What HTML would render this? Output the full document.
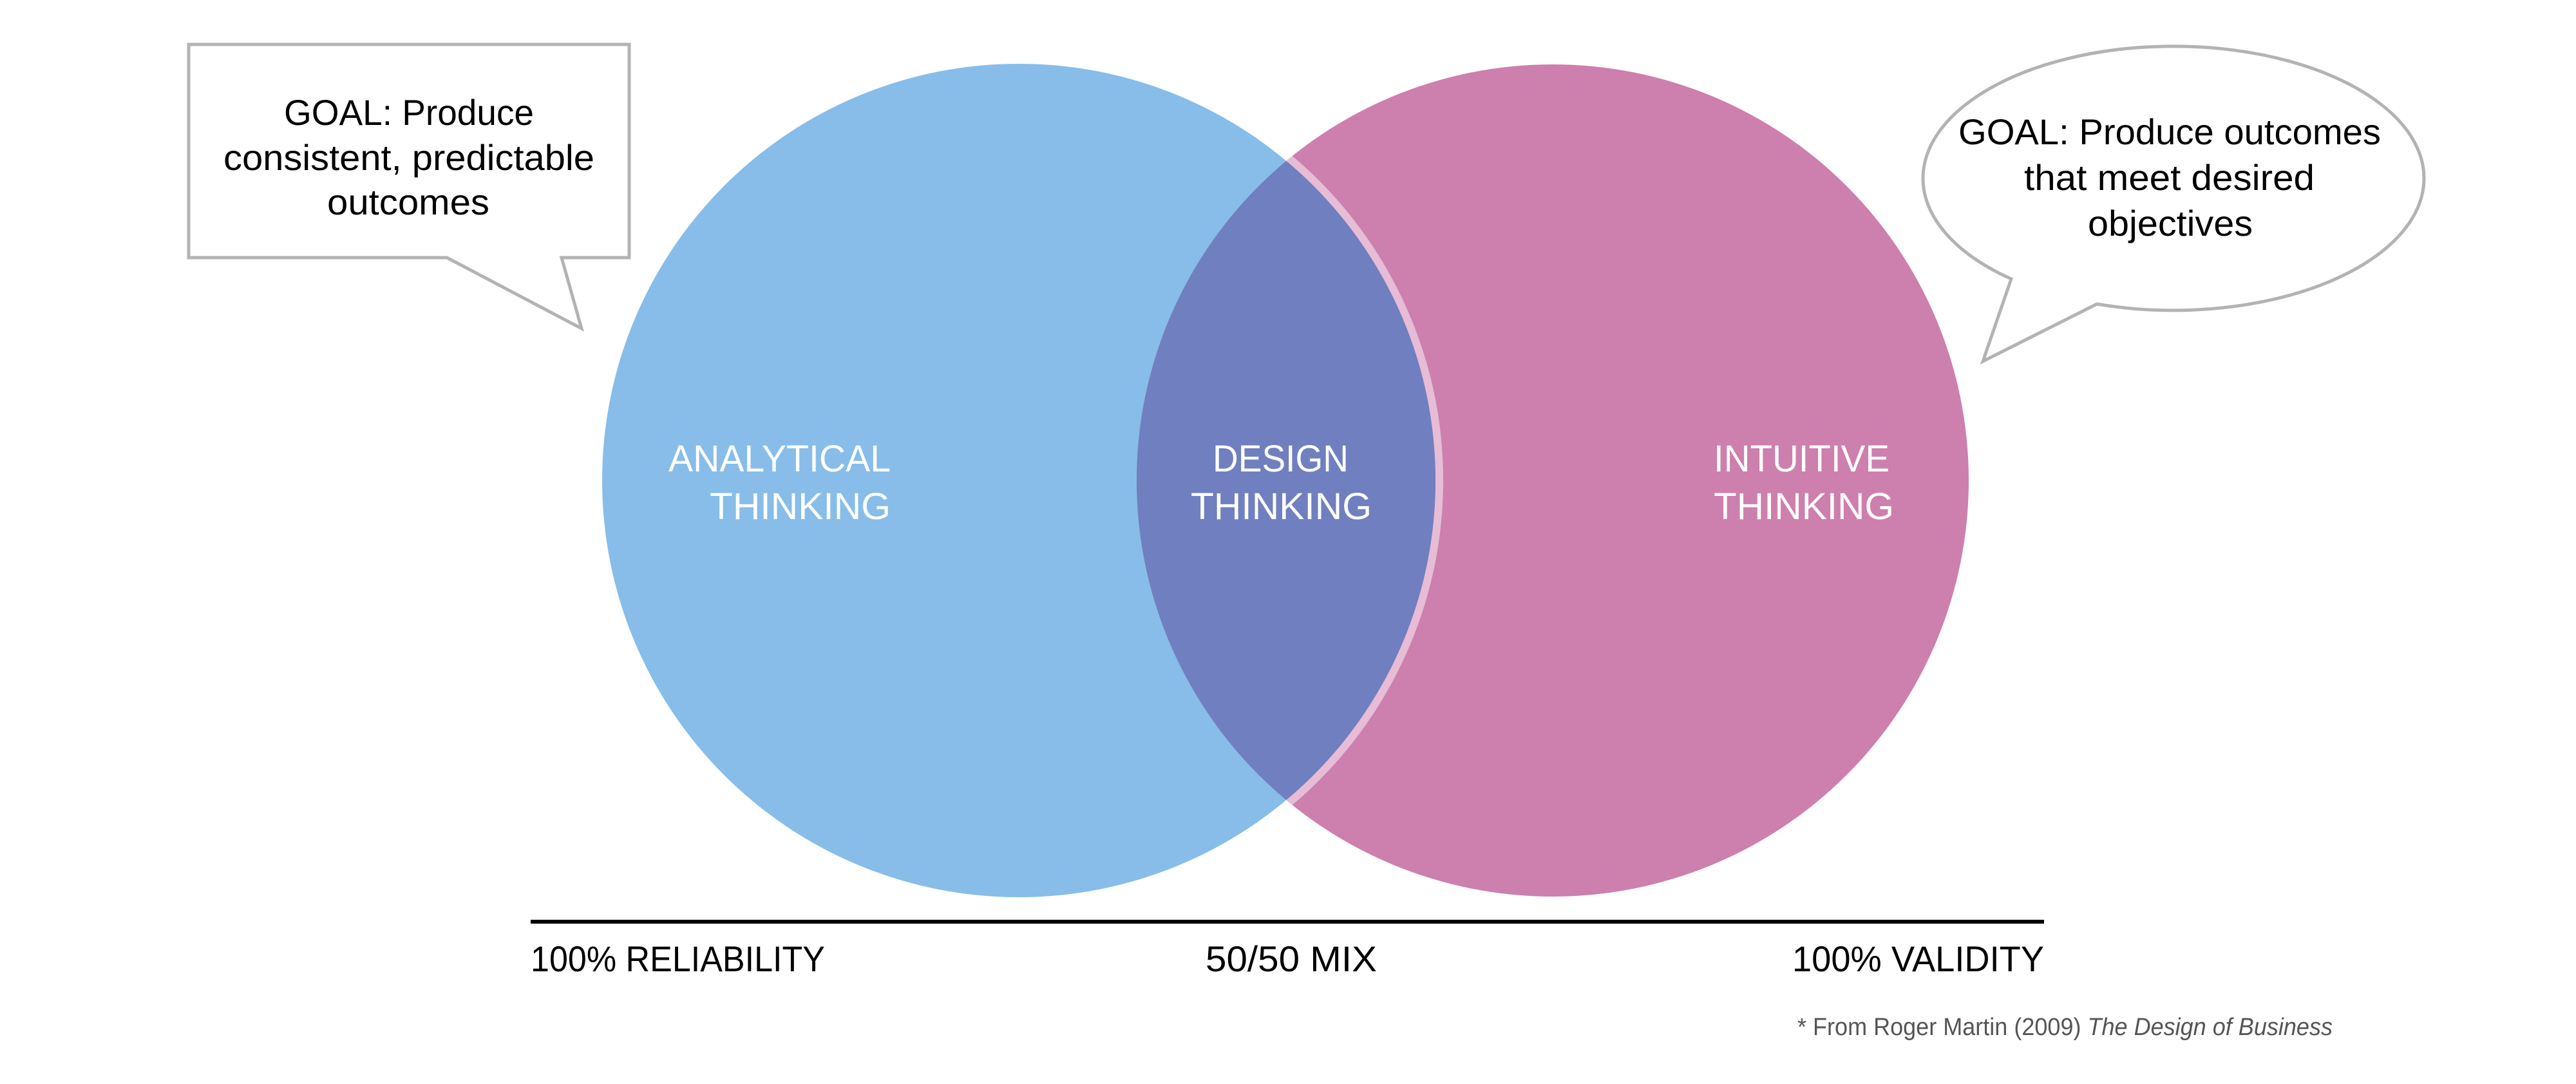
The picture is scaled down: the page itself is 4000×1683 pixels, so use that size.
<!DOCTYPE html>
<html><head><meta charset="utf-8"><style>html,body{margin:0;padding:0;background:#fff;}svg{display:block}</style></head>
<body>
<svg width="4000" height="1683" viewBox="0 0 4000 1683" xmlns="http://www.w3.org/2000/svg" font-family="'Liberation Sans', 'DejaVu Sans', sans-serif">
<defs>
<clipPath id="pink"><circle cx="2411" cy="746" r="646"/></clipPath>
</defs>
<rect width="4000" height="1683" fill="#fff"/>
<circle cx="1582" cy="746" r="647" fill="#87bde8"/>
<circle cx="2411" cy="746" r="646" fill="#cd7fad"/>
<g clip-path="url(#pink)">
<circle cx="1582" cy="746" r="653" fill="none" stroke="#e6bcd6" stroke-width="12"/>
<circle cx="1582" cy="746" r="647" fill="#707fbf"/>
</g>
<!-- left callout -->
<path d="M293,69 L977,69 L977,400 L872,400 L903,510 L694,400 L293,400 Z" fill="#fff" stroke="#b3b3b3" stroke-width="5" stroke-linejoin="miter"/>
<g fill="#000" font-size="56" text-anchor="start">
<text x="441" y="194" textLength="388" lengthAdjust="spacingAndGlyphs">GOAL: Produce</text>
<text x="347" y="264" textLength="576" lengthAdjust="spacingAndGlyphs">consistent, predictable</text>
<text x="508" y="333" textLength="252" lengthAdjust="spacingAndGlyphs">outcomes</text>
</g>
<!-- right callout -->
<path d="M3123,433 A389,205 0 1 1 3256,472 L3079,561 Z" fill="#fff" stroke="#b3b3b3" stroke-width="5" stroke-linejoin="miter"/>
<g fill="#000" font-size="56">
<text x="3041" y="224" textLength="656" lengthAdjust="spacingAndGlyphs">GOAL: Produce outcomes</text>
<text x="3143" y="295" textLength="451" lengthAdjust="spacingAndGlyphs">that meet desired</text>
<text x="3242" y="366" textLength="256" lengthAdjust="spacingAndGlyphs">objectives</text>
</g>
<!-- circle labels -->
<g fill="#fff" font-size="58">
<text x="1038" y="732" textLength="345" lengthAdjust="spacingAndGlyphs">ANALYTICAL</text>
<text x="1102" y="806" textLength="281" lengthAdjust="spacingAndGlyphs">THINKING</text>
<text x="1883" y="732" textLength="211" lengthAdjust="spacingAndGlyphs">DESIGN</text>
<text x="1849" y="806" textLength="281" lengthAdjust="spacingAndGlyphs">THINKING</text>
<text x="2661" y="732" textLength="273" lengthAdjust="spacingAndGlyphs">INTUITIVE</text>
<text x="2661" y="806" textLength="280" lengthAdjust="spacingAndGlyphs">THINKING</text>
</g>
<!-- axis -->
<rect x="824" y="1428" width="2350" height="6" fill="#000"/>
<g fill="#000" font-size="56">
<text x="824" y="1508" textLength="457" lengthAdjust="spacingAndGlyphs">100% RELIABILITY</text>
<text x="1872" y="1508" textLength="266" lengthAdjust="spacingAndGlyphs">50/50 MIX</text>
<text x="2783" y="1508" textLength="391" lengthAdjust="spacingAndGlyphs">100% VALIDITY</text>
</g>
<text x="2791" y="1607" font-size="38" fill="#555" textLength="831" lengthAdjust="spacingAndGlyphs">* From Roger Martin (2009) <tspan font-style="italic">The Design of Business</tspan></text>
</svg>
</body></html>
